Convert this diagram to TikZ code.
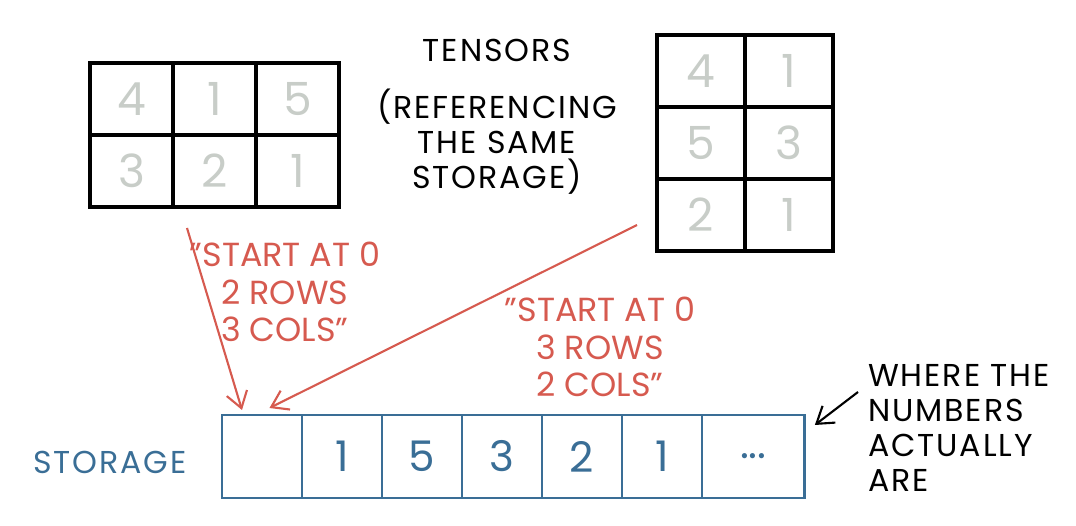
\documentclass[tikz,border=0pt]{standalone}
\usepackage{fontspec}
\setmainfont{Poppins}
\usetikzlibrary{arrows.meta, positioning}
\definecolor{noteRed}{RGB}{214,90,79}
\definecolor{storeBlue}{RGB}{58,110,150}
\definecolor{digitGray}{RGB}{200,205,200}

\begin{document}
\begin{tikzpicture}[
    x=0.02cm, y=-0.02cm,
    gridcell/.style={rectangle, draw=black, line width=2.2pt, outer sep=0pt, inner sep=0pt, minimum height=1.44cm, text=digitGray, font=\fontsize{26}{26}\selectfont},
    leftcell/.style={gridcell, minimum width=1.66cm},
    rightcell/.style={gridcell, minimum width=1.76cm},
    storecell/.style={rectangle, draw=storeBlue, line width=1.6pt, outer sep=0pt, inner sep=0pt, minimum width=1.6cm, minimum height=1.66cm, text=storeBlue, font=\fontsize{24}{24}\selectfont},
    title/.style={align=center, font=\fontsize{18}{20}\selectfont\addfontfeature{LetterSpace=6}},
    rednote/.style={align=center, text=noteRed, font=\fontsize{19}{21.5}\selectfont},
    pointer/.style={-{Straight Barb[length=9pt, width=12pt]}, line width=1.2pt, color=noteRed}
]
\useasboundingbox (0,0) rectangle (1076,526);

% tensor with 2 rows, 3 cols
\node[leftcell, anchor=north west] (l11) at (90,63) {4};
\node[leftcell, right=0pt of l11] (l12) {1};
\node[leftcell, right=0pt of l12] (l13) {5};
\node[leftcell, below=0pt of l11] (l21) {3};
\node[leftcell, right=0pt of l21] (l22) {2};
\node[leftcell, right=0pt of l22] (l23) {1};

% tensor with 3 rows, 2 cols
\node[rightcell, anchor=north west] (r11) at (657,35) {4};
\node[rightcell, right=0pt of r11] (r12) {1};
\node[rightcell, below=0pt of r11] (r21) {5};
\node[rightcell, right=0pt of r21] (r22) {3};
\node[rightcell, below=0pt of r21] (r31) {2};
\node[rightcell, right=0pt of r31] (r32) {1};

\node[title] (tensors) at (497,50) {TENSORS};
\node[title] (refnote) at (497,142) {(REFERENCING\\THE SAME\\STORAGE)};

% storage
\node[storecell, anchor=north west] (s0) at (222,415) {};
\node[storecell, right=0pt of s0] (s1) {1};
\node[storecell, right=0pt of s1] (s2) {5};
\node[storecell, right=0pt of s2] (s3) {3};
\node[storecell, right=0pt of s3] (s4) {2};
\node[storecell, right=0pt of s4] (s5) {1};
\node[storecell, right=0pt of s5, minimum width=2.06cm] (s6) {...};

\node[title, text=storeBlue] (storage) at (110,462) {STORAGE};
\node[title, align=left, anchor=north west] (where) at (862,358) {WHERE THE\\NUMBERS\\ACTUALLY\\ARE};

\node[rednote] (note1) at (285,292) {"START AT 0\\2 ROWS\\3 COLS''};
\node[rednote] (note2) at (600,347) {"START AT 0\\3 ROWS\\2 COLS''};

\coordinate (from1) at (187,228);
\coordinate (from2) at (637,225);
\coordinate (fromw) at (858,392);

\draw[pointer] (from1) -- ([xshift=0.4cm, yshift=0.1cm]s0.north west);
\draw[pointer] (from2) -- ([xshift=-0.65cm, yshift=0.14cm]s0.north east);
\draw[pointer, color=black] (fromw) -- ([xshift=0.2cm, yshift=-0.2cm]s6.north east);
\end{tikzpicture}
\end{document}
